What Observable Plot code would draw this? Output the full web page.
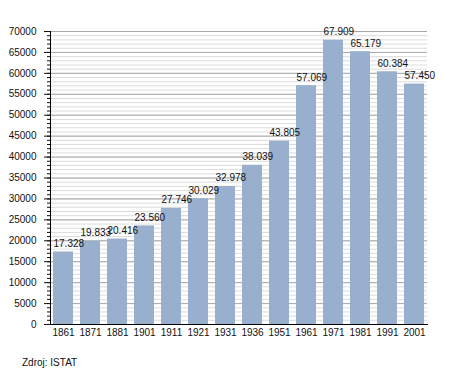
<!DOCTYPE html>
<html>
<head>
<meta charset="utf-8">
<script src="https://cdn.jsdelivr.net/npm/d3@7"></script>
<script src="https://cdn.jsdelivr.net/npm/@observablehq/plot@0.6"></script>
<style>
  html, body { margin: 0; padding: 0; background: #fff; }
  #chart { position: relative; width: 455px; height: 373px; font-family: "Liberation Sans", Arial, sans-serif; }
  #caption { position: absolute; left: 22px; top: 357px; font-size: 10px; color: #111; }
</style>
</head>
<body>
<div id="chart"></div>
<script>
const years = ["1861","1871","1881","1901","1911","1921","1931","1936","1951","1961","1971","1981","1991","2001"];
const population = [17328,19833,20416,23560,27746,30029,32978,38039,43805,57069,67909,65179,60384,57450];
const majorTicks = [0,5000,10000,15000,20000,25000,30000,35000,40000,45000,50000,55000,60000,65000,70000];
const minorTicks = d3.range(0, 70001, 1000);
const caption = "Zdroj: ISTAT";

const data = years.map((y, i) => ({year: y, pop: population[i]}));
const it = d3.formatLocale({thousands: ".", grouping: [3], decimal: ",", currency: ["", ""]}).format(",d");

const plot = Plot.plot({
  width: 455,
  height: 345,
  marginLeft: 50,
  marginRight: 28,
  marginTop: 31,
  marginBottom: 21,
  style: {fontFamily: "Liberation Sans, Arial, sans-serif", fontSize: "10px", color: "#111", background: "#fff"},
  x: {domain: years, paddingInner: 0.245, paddingOuter: 0.04, label: null},
  y: {domain: [0, 70000], label: null},
  marks: [
    Plot.ruleY(minorTicks, {stroke: "#dcdcdc", strokeWidth: 1}),
    Plot.ruleY(majorTicks, {stroke: "#a8a8a8", strokeWidth: 1}),
    Plot.barY(data, {x: "year", y: "pop", fill: "#98b0cd"}),
    Plot.text(data, {x: "year", y: "pop", text: d => it(d.pop), textAnchor: "start", lineAnchor: "bottom", dx: -10, dy: -5, fill: "#111", fontSize: 10}),
    Plot.axisY({ticks: minorTicks, tickSize: 3, tickFormat: () => "", label: null}),
    Plot.axisY({ticks: majorTicks, tickSize: 6, tickPadding: 8, tickFormat: d3.format("d"), label: null}),
    Plot.axisX({tickSize: 0, tickPadding: 4, label: null}),
    Plot.frame({anchor: "left", stroke: "#000"}),
    Plot.frame({anchor: "bottom", stroke: "#000"})
  ]
});
document.getElementById("chart").appendChild(plot);
const cap = document.createElement("div");
cap.id = "caption";
cap.textContent = caption;
document.getElementById("chart").appendChild(cap);
</script>
</body>
</html>
